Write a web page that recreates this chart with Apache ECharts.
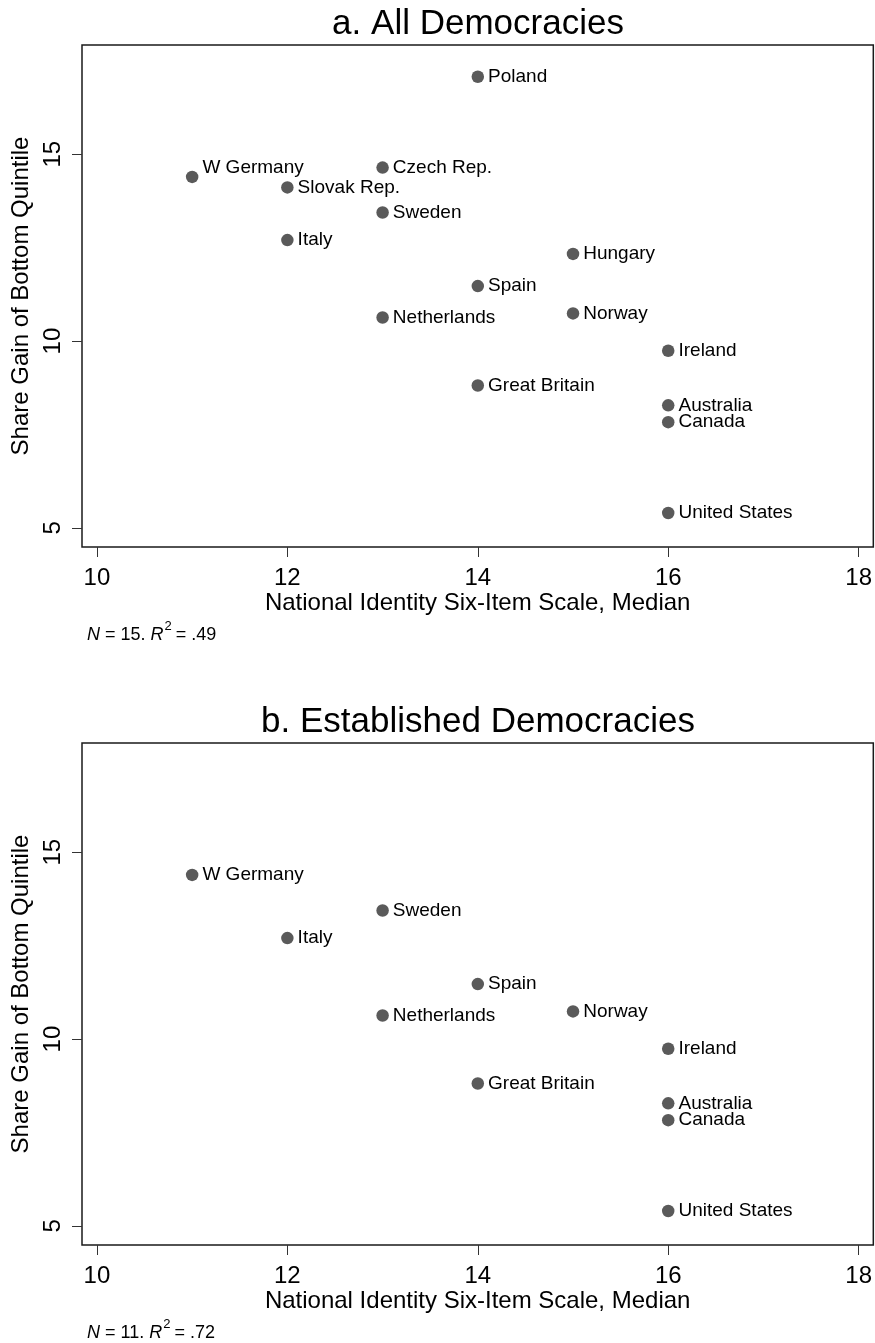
<!DOCTYPE html>
<html>
<head>
<meta charset="utf-8">
<title>Share gain of bottom quintile vs national identity</title>
<script src="https://cdn.jsdelivr.net/npm/echarts@6/dist/echarts.min.js"></script>
<style>
  html, body { margin: 0; padding: 0; background: #fff; }
  #chart { width: 875px; height: 1343px; }
</style>
</head>
<body>
<div id="chart"></div>
<script>
// values
const countries = ['Poland', 'W Germany', 'Czech Rep.', 'Slovak Rep.', 'Sweden', 'Italy', 'Hungary', 'Spain',
  'Netherlands', 'Norway', 'Ireland', 'Great Britain', 'Australia', 'Canada', 'United States']
const identityMedian = [14, 11, 13, 12, 13, 12, 15, 14, 13, 15, 16, 14, 16, 16, 16]
const shareGain = [17.07, 14.39, 14.64, 14.11, 13.44, 12.70, 12.33, 11.47, 10.63, 10.74, 9.74, 8.81, 8.28, 7.83, 5.40]
const established = ['W Germany', 'Sweden', 'Italy', 'Spain', 'Netherlands', 'Norway', 'Ireland',
  'Great Britain', 'Australia', 'Canada', 'United States']

const xTicks = [10, 12, 14, 16, 18]
const yTicks = [5, 10, 15]
const panelTitles = ['a. All Democracies', 'b. Established Democracies']
const panelN = [15, 11]
const panelR2 = ['.49', '.72']

const FONT = '"Liberation Sans", Arial, Helvetica, sans-serif'

// layout of the two panels
const panelTop = [45, 743]
const panelGroups = [countries, established]

const chart = echarts.init(document.getElementById('chart'))

// build points for a panel
const pointsFor = (names, panel) => names.map(n => {
  const k = countries.indexOf(n)
  const item = { name: n, value: [identityMedian[k], shareGain[k]] }
  // W Germany label sits at 2 o'clock in panel a
  if (panel === 0 && n === 'W Germany') item.label = { offset: [0, -9] }
  return item
})

const grids = panelTop.map(top => ({
  left: 82, top: top, width: 792, height: 502,
  show: true, borderColor: '#1a1a1a', borderWidth: 1.5, backgroundColor: '#fff'
}))

const xAxes = panelTop.map((_, i) => ({
  gridIndex: i,
  type: 'value',
  min: 9.843,
  max: 18.154,
  name: 'National Identity Six-Item Scale, Median',
  nameLocation: 'middle',
  nameGap: 44,
  nameTextStyle: { fontSize: 24, color: '#000', fontFamily: FONT },
  axisLine: { show: false },
  axisTick: { show: true, length: 10, customValues: xTicks, lineStyle: { color: '#333', width: 1 } },
  axisLabel: { customValues: xTicks, fontSize: 24, color: '#000', margin: 19, fontFamily: FONT },
  splitLine: { show: false }
}))

const yAxes = panelTop.map((_, i) => ({
  gridIndex: i,
  type: 'value',
  min: 4.49,
  max: 17.92,
  name: 'Share Gain of Bottom Quintile',
  nameLocation: 'middle',
  nameGap: 42,
  nameTextStyle: { fontSize: 24, color: '#000', fontFamily: FONT },
  axisLine: { show: false },
  axisTick: { show: true, length: 10, customValues: yTicks, lineStyle: { color: '#333', width: 1 } },
  axisLabel: { customValues: yTicks, rotate: 90, fontSize: 24, color: '#000', margin: 17, fontFamily: FONT },
  splitLine: { show: false }
}))

const series = panelGroups.map((names, i) => ({
  type: 'scatter',
  xAxisIndex: i,
  yAxisIndex: i,
  symbolSize: 12.5,
  itemStyle: { color: '#5a5a5a', opacity: 1 },
  label: {
    show: true,
    position: 'right',
    distance: 4,
    formatter: '{b}',
    fontSize: 19,
    color: '#000',
    fontFamily: FONT
  },
  data: pointsFor(names, i)
}))

const titles = []
panelTitles.forEach((t, i) => {
  titles.push({
    text: t,
    left: 478,
    top: panelTop[i] - 38,
    textAlign: 'center',
    padding: 0,
    textStyle: { fontSize: 35, fontWeight: 'normal', color: '#000', fontFamily: FONT }
  })
  titles.push({
    text: '{i|N}{t| = ' + panelN[i] + '. }{i|R}{sup|2}{t|= ' + panelR2[i] + '}',
    left: 87,
    top: panelTop[i] + 575,
    padding: 0,
    textStyle: {
      fontWeight: 'normal',
      rich: {
        t: { fontSize: 18, color: '#000', fontFamily: FONT, fontWeight: 'normal', lineHeight: 24, verticalAlign: 'bottom' },
        i: { fontSize: 18, color: '#000', fontFamily: FONT, fontWeight: 'normal', fontStyle: 'italic', lineHeight: 24, verticalAlign: 'bottom' },
        sup: { fontSize: 13, color: '#000', fontFamily: FONT, fontWeight: 'normal', lineHeight: 13, verticalAlign: 'top', padding: [0, 4, 0, 1] }
      }
    }
  })
})

chart.setOption({
  animation: false,
  backgroundColor: '#fff',
  title: titles,
  grid: grids,
  xAxis: xAxes,
  yAxis: yAxes,
  series: series
})
</script>
</body>
</html>
